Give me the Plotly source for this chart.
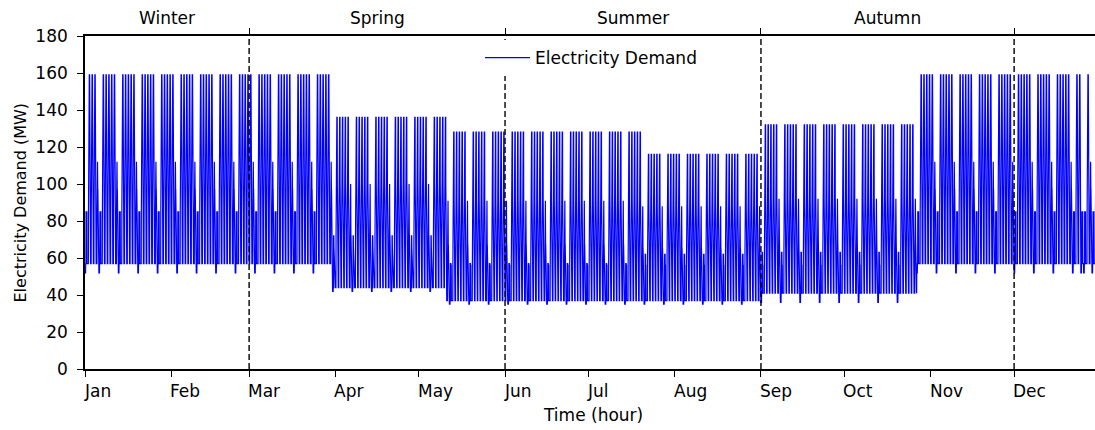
import bisect

import numpy as np
import plotly.graph_objects as go

# ---------------------------------------------------------------------------
# Data
# ---------------------------------------------------------------------------
N_DAYS = 365
FIRST_DAY_OF_WEEK = 1          # 1 January is a Tuesday (Monday = 0)
HOLIDAYS = [0, 358, 359]       # New Year, Christmas, Boxing Day

# day-of-year at which each demand regime begins
REGIME_START_DAYS = [0, 89, 130, 200, 243, 299]
REGIME_NAMES = ["winter", "spring", "early_summer", "late_summer", "autumn", "winter"]

# hourly demand profiles in MW (hour 0 .. 23)
WINTER_WEEKDAY = [57, 57, 57, 57, 57, 57, 85, 146, 159, 159, 159, 159,
                  146, 159, 159, 159, 159, 146, 85, 85, 57, 57, 57, 57]
WINTER_SATURDAY = [57, 57, 57, 57, 57, 57, 57, 57, 85, 112, 112, 112,
                   112, 97, 97, 97, 85, 57, 57, 57, 57, 57, 57, 57]
WINTER_SUNDAY = [52, 52, 52, 52, 52, 52, 57, 57, 57, 85, 85, 85,
                 85, 85, 85, 85, 85, 57, 57, 57, 57, 57, 57, 57]

SPRING_WEEKDAY = [44, 44, 44, 44, 44, 44, 72, 124, 136, 136, 136, 136,
                  136, 136, 136, 136, 136, 100, 72, 72, 44, 44, 44, 44]
SPRING_SATURDAY = [44, 44, 44, 44, 44, 44, 44, 44, 72, 100, 100, 100,
                   100, 72, 72, 72, 72, 44, 44, 44, 44, 44, 44, 44]
SPRING_SUNDAY = [42, 42, 42, 42, 42, 42, 44, 44, 44, 72, 72, 72,
                 66, 66, 59, 59, 59, 44, 44, 44, 44, 44, 44, 44]

EARLY_SUMMER_WEEKDAY = [37, 37, 37, 37, 37, 37, 57, 118, 128, 128, 128, 128,
                        128, 128, 128, 128, 128, 91, 57, 57, 37, 37, 37, 37]
EARLY_SUMMER_SATURDAY = [37, 37, 37, 37, 37, 37, 37, 37, 57, 91, 91, 91,
                         91, 67, 67, 67, 57, 37, 37, 37, 37, 37, 37, 37]
EARLY_SUMMER_SUNDAY = [35, 35, 35, 35, 35, 35, 37, 37, 37, 57, 57, 57,
                       57, 57, 56, 56, 56, 37, 37, 37, 37, 37, 37, 37]

LATE_SUMMER_WEEKDAY = [37, 37, 37, 37, 37, 37, 62, 108, 116, 116, 116, 116,
                       116, 116, 116, 116, 116, 88, 62, 62, 37, 37, 37, 37]
LATE_SUMMER_SATURDAY = [37, 37, 37, 37, 37, 37, 37, 37, 62, 88, 88, 88,
                        88, 65, 65, 65, 56, 37, 37, 37, 37, 37, 37, 37]
LATE_SUMMER_SUNDAY = [35, 35, 35, 35, 35, 35, 37, 37, 37, 62, 62, 62,
                      62, 62, 56, 56, 56, 37, 37, 37, 37, 37, 37, 37]

AUTUMN_WEEKDAY = [41, 41, 41, 41, 41, 41, 63, 122, 132, 132, 132, 132,
                  132, 132, 132, 132, 132, 92, 69, 63, 41, 41, 41, 41]
AUTUMN_SATURDAY = [41, 41, 41, 41, 41, 41, 41, 41, 63, 92, 92, 92,
                   92, 77, 77, 69, 63, 41, 41, 41, 41, 41, 41, 41]
AUTUMN_SUNDAY = [36, 36, 36, 36, 36, 36, 41, 41, 41, 63, 63, 63,
                 63, 63, 56, 56, 56, 41, 41, 41, 41, 41, 41, 41]

# month ticks (start of each month, in days) and season boundaries
MONTH_LABELS = ["Jan", "Feb", "Mar", "Apr", "May", "Jun",
                "Jul", "Aug", "Sep", "Oct", "Nov", "Dec"]
MONTH_START_DAYS = [0, 31, 59, 90, 120, 151, 181, 212, 243, 273, 304, 334]
SEASON_LABELS = ["Winter", "Spring", "Summer", "Autumn"]
SEASON_BOUNDARY_DAYS = [0, 59, 151, 243, 334]

# ---------------------------------------------------------------------------
# Build the hourly series
# ---------------------------------------------------------------------------
PROFILES = {
    "winter": {"weekday": WINTER_WEEKDAY, "saturday": WINTER_SATURDAY,
               "sunday": WINTER_SUNDAY},
    "spring": {"weekday": SPRING_WEEKDAY, "saturday": SPRING_SATURDAY,
               "sunday": SPRING_SUNDAY},
    "early_summer": {"weekday": EARLY_SUMMER_WEEKDAY,
                     "saturday": EARLY_SUMMER_SATURDAY,
                     "sunday": EARLY_SUMMER_SUNDAY},
    "late_summer": {"weekday": LATE_SUMMER_WEEKDAY,
                    "saturday": LATE_SUMMER_SATURDAY,
                    "sunday": LATE_SUMMER_SUNDAY},
    "autumn": {"weekday": AUTUMN_WEEKDAY, "saturday": AUTUMN_SATURDAY,
               "sunday": AUTUMN_SUNDAY},
}

demand = []
for day in range(N_DAYS):
    regime = REGIME_NAMES[bisect.bisect_right(REGIME_START_DAYS, day) - 1]
    dow = (day + FIRST_DAY_OF_WEEK) % 7
    if day in HOLIDAYS or dow == 6:
        kind = "sunday"
    elif dow == 5:
        kind = "saturday"
    else:
        kind = "weekday"
    demand.extend(PROFILES[regime][kind])

hours = np.arange(len(demand))
month_start_hours = [d * 24 for d in MONTH_START_DAYS]
season_bounds = [d * 24 for d in SEASON_BOUNDARY_DAYS]
season_centres = [(a + b) / 2 for a, b in zip(season_bounds[:-1], season_bounds[1:])]

# ---------------------------------------------------------------------------
# Figure
# ---------------------------------------------------------------------------
FONT = "DejaVu Sans"
FS = 17
W, H = 1095, 430
ML, MR, MT, MB = 85, 0, 36, 61
PLOT_H = H - MT - MB
X_RANGE = [0, 8714]


def py(px):
    """pixel row -> paper y"""
    return (H - MB - px) / PLOT_H


def px_x(px):
    """pixel column -> paper x"""
    return (px - ML) / (W - ML - MR)


fig = go.Figure()
fig.add_trace(go.Scatter(
    x=hours, y=demand, mode="lines", name="Electricity Demand",
    line=dict(color="#0000ff", width=1.2), hoverinfo="skip",
))
# anchor trace for the top season axis
fig.add_trace(go.Scatter(
    x=season_bounds, y=[None] * len(season_bounds), xaxis="x2",
    mode="lines", showlegend=False, hoverinfo="skip",
))

# season boundaries
for xb in season_bounds[1:]:
    fig.add_shape(type="line", xref="x", yref="paper", x0=xb, x1=xb,
                  y0=0, y1=1, layer="above",
                  line=dict(color="black", width=1.4, dash="6px,3px"))

annotations = []
for h, lab in zip(month_start_hours, MONTH_LABELS):
    annotations.append(dict(x=h, y=py(391), xref="x", yref="paper",
                            text=lab, showarrow=False, xanchor="left",
                            yanchor="middle", xshift=-3,
                            font=dict(family=FONT, size=FS, color="black")))
for c, lab in zip(season_centres, SEASON_LABELS):
    annotations.append(dict(x=c, y=py(18), xref="x", yref="paper",
                            text=lab, showarrow=False, xanchor="center",
                            yanchor="middle",
                            font=dict(family=FONT, size=FS, color="black")))
annotations.append(dict(x=px_x(593), y=py(415), xref="paper",
                        yref="paper", text="Time (hour)", showarrow=False,
                        xanchor="center", yanchor="middle",
                        font=dict(family=FONT, size=FS, color="black")))
annotations.append(dict(x=px_x(20), y=0.5, xref="paper",
                        yref="paper", text="Electricity Demand (MW)",
                        textangle=-90, showarrow=False, xanchor="center",
                        yanchor="middle",
                        font=dict(family=FONT, size=16, color="black")))

fig.update_layout(
    width=W, height=H,
    margin=dict(l=ML, r=MR, t=MT, b=MB, pad=0),
    paper_bgcolor="white", plot_bgcolor="white",
    font=dict(family=FONT, size=FS, color="black"),
    showlegend=True,
    legend=dict(x=px_x(480), y=py(40), xanchor="left", yanchor="top",
                bgcolor="white", borderwidth=0, itemwidth=45,
                font=dict(family=FONT, size=FS, color="black")),
    xaxis=dict(range=X_RANGE, tickmode="array", tickvals=month_start_hours,
               showticklabels=False, ticks="outside", ticklen=6,
               tickwidth=1.3, tickcolor="black", showgrid=False,
               zeroline=False, showline=True, linecolor="black",
               linewidth=1.6),
    xaxis2=dict(range=X_RANGE, overlaying="x", side="top", anchor="y",
                tickmode="array", tickvals=season_bounds[1:],
                showticklabels=False, ticks="outside", ticklen=6,
                tickwidth=1.3, tickcolor="black", showgrid=False,
                zeroline=False, showline=True, linecolor="black",
                linewidth=1.6),
    yaxis=dict(range=[0, 180], tickmode="array",
               tickvals=list(range(0, 181, 20)), ticks="outside",
               ticklen=6, tickwidth=1.3, tickcolor="black",
               ticklabelstandoff=6, showgrid=False, zeroline=False,
               showline=True, linecolor="black", linewidth=1.6,
               tickfont=dict(family=FONT, size=FS, color="black")),
    annotations=annotations,
)

fig.write_html("out.html")
